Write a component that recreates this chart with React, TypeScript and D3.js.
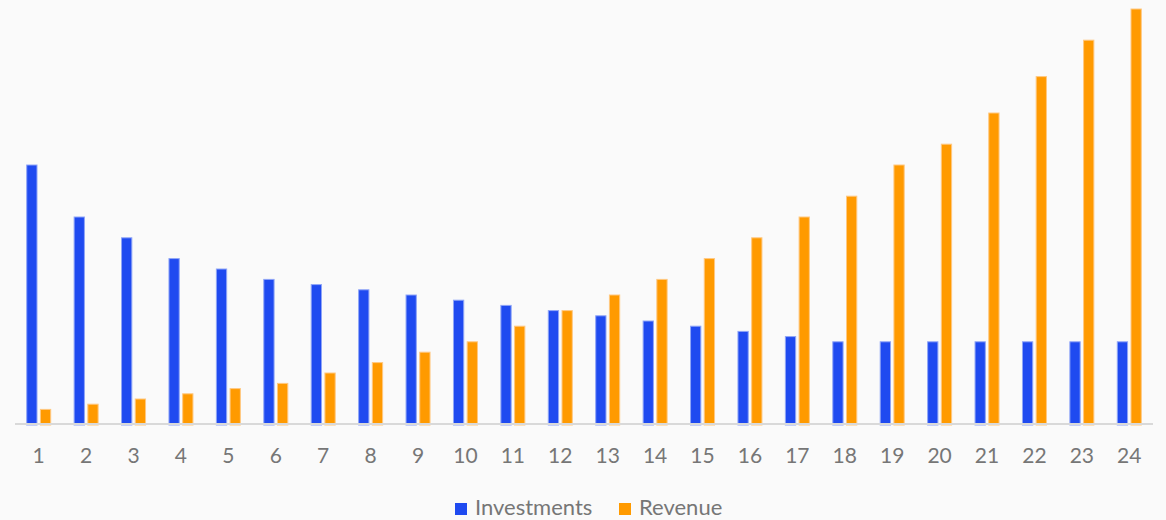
import React from "react";
import * as d3 from "d3";

const categories = Array.from({ length: 24 }, (_, i) => String(i + 1));
const investments = [50, 40, 36, 32, 30, 28, 27, 26, 25, 24, 23, 22, 21, 20, 19, 18, 17, 16, 16, 16, 16, 16, 16, 16];
const revenue = [3, 4, 5, 6, 7, 8, 10, 12, 14, 16, 19, 22, 25, 28, 32, 36, 40, 44, 50, 54, 60, 67, 74, 80];
const seriesNames = ["Investments", "Revenue"];
const seriesColors = ["#1F4AF0", "#FF9A00"];
const seriesStroke = ["#8FA5F7", "#FFC880"];

const W = 1166;
const H = 520;

export default function App() {
  const x = d3.scaleBand<string>().domain(categories).range([15, 1153]).paddingInner(0.494).paddingOuter(0.247);
  const inner = d3.scaleBand<string>().domain(seriesNames).range([0, x.bandwidth()]).paddingInner(0.25);
  const y = d3.scaleLinear().domain([0, 80]).range([425, 9]);
  const series = [investments, revenue];
  const font = "Lato, 'Open Sans', sans-serif";
  return (
    <svg width={W} height={H} style={{ position: "absolute", left: 0, top: 0, display: "block" }}>
      <rect x={0} y={0} width={W} height={H} fill="#FAFAFA" />
      {series.map((vals, si) => (
        <g key={si}>
          {vals.map((v, i) => {
            const bx = (x(categories[i]) ?? 0) + (inner(seriesNames[si]) ?? 0);
            return (
              <rect
                key={i}
                x={bx}
                y={y(v)}
                width={inner.bandwidth()}
                height={y(0) - y(v)}
                fill={seriesColors[si]}
                stroke={seriesStroke[si]}
                strokeWidth={1}
              />
            );
          })}
        </g>
      ))}
      <line x1={15} x2={1153} y1={424} y2={424} stroke="#D9D9D9" strokeWidth={2} />
      {categories.map((c) => (
        <text
          key={c}
          x={(x(c) ?? 0) + x.bandwidth() / 2}
          y={463}
          textAnchor="middle"
          fontFamily={font}
          fontSize={21}
          fill="#767676"
        >
          {c}
        </text>
      ))}
      <g>
        <rect x={455} y={503} width={12} height={12} fill={seriesColors[0]} />
        <text x={475} y={515} fontFamily={font} fontSize={22} fill="#767676">Investments</text>
        <rect x={619} y={503} width={12} height={12} fill={seriesColors[1]} />
        <text x={639} y={515} fontFamily={font} fontSize={22} fill="#767676">Revenue</text>
      </g>
    </svg>
  );
}
